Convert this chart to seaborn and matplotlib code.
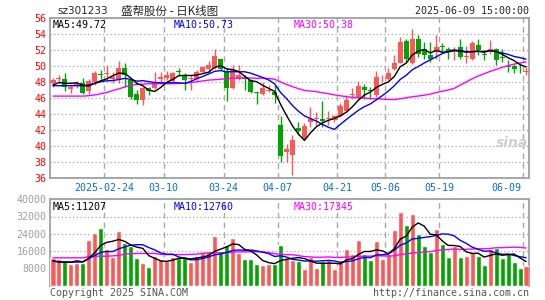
import matplotlib
matplotlib.use("Agg")
import matplotlib.pyplot as plt
import numpy as np
import pandas as pd
import seaborn as sns


# daily candles, 2025-02-11 .. 2025-06-09 (80 trading days)
opens = [47.8, 48.3, 48.35, 47.05, 47.5, 47.9, 46.8, 48.0, 48.95, 49.0,
         48.3, 48.4, 49.7, 48.2, 46.5, 45.7, 47.2, 47.2, 48.35, 48.5,
         48.1, 49.3, 48.85, 48.4, 48.4, 49.25, 49.6, 49.75, 50.8, 49.25,
         47.2, 48.35, 48.6, 48.2, 46.7, 46.5, 46.9, 46.75, 42.6, 39.25,
         38.8, 42.2, 41.0, 43.0, 43.4, 43.4, 43.35, 43.2, 43.75, 44.3,
         46.4, 46.0, 47.4, 46.9, 46.3, 48.3, 48.35, 49.55, 50.4, 53.1,
         50.4, 53.4, 52.1, 51.3, 51.7, 52.4, 52.1, 51.8, 52.4, 51.1,
         50.9, 52.6, 51.4, 51.8, 52.1, 51.05, 49.9, 50.0, 49.6, 49.2]
highs = [48.5, 48.8, 49.05, 47.6, 48.1, 48.5, 48.4, 49.3, 49.5, 50.1,
         49.25, 50.6, 50.4, 48.4, 47.0, 47.4, 47.4, 49.25, 49.25, 49.3,
         49.25, 49.7, 49.1, 48.85, 49.5, 50.0, 50.6, 52.05, 50.9, 49.7,
         50.1, 50.1, 48.85, 48.4, 46.75, 48.0, 47.6, 47.6, 43.75, 40.2,
         41.3, 43.0, 42.8, 44.9, 44.25, 45.6, 44.3, 43.9, 45.4, 46.3,
         47.2, 48.1, 47.7, 47.4, 49.3, 48.9, 49.7, 51.4, 53.6, 53.4,
         54.6, 53.8, 53.0, 53.0, 53.9, 52.8, 52.3, 52.3, 53.3, 52.5,
         53.1, 53.4, 52.0, 53.2, 52.2, 52.1, 50.7, 50.2, 50.3, 49.8]
lows = [47.3, 47.8, 46.9, 46.6, 47.2, 46.5, 46.5, 47.6, 48.4, 48.2,
        47.8, 47.8, 47.4, 45.9, 45.2, 45.1, 46.3, 47.05, 48.0, 48.2,
        47.9, 48.85, 47.0, 47.0, 48.2, 49.1, 49.25, 49.55, 49.5, 45.6,
        47.1, 48.2, 47.0, 46.55, 45.2, 46.3, 46.7, 45.3, 38.0, 38.0,
        36.4, 41.3, 40.7, 42.4, 42.6, 42.4, 42.6, 43.0, 43.6, 44.2,
        45.9, 45.9, 45.9, 45.9, 46.1, 48.0, 48.2, 49.5, 50.3, 50.5,
        50.2, 51.1, 50.8, 50.5, 50.9, 51.8, 50.9, 50.7, 50.9, 50.3,
        50.7, 51.3, 50.7, 51.5, 50.1, 50.5, 49.25, 49.05, 49.05, 48.85]
closes = [48.2, 48.5, 47.3, 47.4, 47.9, 46.6, 48.1, 49.1, 48.9, 49.1,
          48.6, 49.7, 48.8, 46.1, 45.7, 47.2, 46.9, 48.0, 48.6, 48.9,
          49.05, 49.2, 48.2, 48.5, 49.25, 49.9, 50.1, 51.2, 49.6, 47.2,
          49.5, 48.9, 48.3, 46.75, 46.6, 47.2, 47.0, 46.4, 38.7, 39.6,
          40.7, 41.8, 42.5, 43.4, 43.45, 43.1, 43.4, 43.75, 45.0, 45.7,
          46.45, 47.5, 47.0, 46.85, 48.6, 48.35, 49.05, 50.4, 53.0, 50.8,
          53.4, 51.5, 51.4, 50.9, 52.3, 52.35, 51.7, 52.1, 51.1, 51.15,
          52.8, 52.0, 51.35, 52.1, 50.7, 51.0, 49.85, 49.55, 49.55, 49.3]
volumes = [12900, 12450, 11700, 9850, 10600, 10600, 21300, 24350, 26800, 17200,
           13200, 25400, 19800, 18250, 12600, 10300, 8500, 13650, 12150, 11700,
           13200, 12600, 13650, 10900, 13650, 15500, 16250, 23150, 15950, 19000,
           22200, 14900, 12150, 12150, 9850, 9400, 9850, 9850, 19000, 12900,
           11850, 11400, 7550, 13350, 8000, 11400, 11700, 7550, 11700, 17200,
           14450, 21300, 14450, 11700, 20850, 12450, 14450, 25900, 34100, 27850,
           33200, 24050, 18550, 15500, 26350, 19450, 13350, 18250, 13350, 13950,
           15650, 13950, 9400, 17000, 17500, 12600, 15200, 11000, 8000, 9000]

# moving averages at the left edge need days before the window
ma5_head = [47.6, 47.9, 47.8, 47.8]
ma10_head = [47.5, 47.5, 47.5, 47.5, 47.5, 47.5, 47.6, 47.8, 48.0]
ma30_head = [46.2, 46.2, 46.2, 46.2, 46.2, 46.2, 46.25, 46.35, 46.5, 46.65,
             46.9, 47.1, 47.35, 47.55, 47.65, 47.7, 47.75, 47.75, 47.75, 47.75,
             47.75, 47.8, 47.8, 47.9, 48.0, 48.1, 48.2, 48.25, 48.3]
vma5_head = [11500, 11000, 10900, 10900]
vma10_head = [11300, 11000, 10900, 10900, 10900, 11000, 12500, 14000, 15500]
vma30_head = [12900, 12900, 12900, 12900, 12900, 12900, 13500, 13650, 13650, 13650,
              13800, 14000, 14600, 14800, 14900, 14900, 14900, 14900, 14500, 14400,
              14400, 14400, 14400, 14500, 14600, 15000, 15100, 15200, 15200]

date_ticks = [9, 19, 29, 38, 48, 56, 65, 79]
date_labels = ['2025-02-24', '03-10', '03-24', '04-07', '04-21', '05-06', '05-19', '06-09']
price_ticks = list(range(36, 57, 2))
vol_ticks = [8000, 16000, 24000, 32000, 40000]

RED = '#ff5656'
GREEN = '#00a600'
GRID = '#a8a8a8'


def with_head(series, n, head):
    ma = series.rolling(n).mean()
    ma.iloc[:n - 1] = head
    return ma


df = pd.DataFrame({'open': opens, 'high': highs, 'low': lows,
                   'close': closes, 'vol': volumes})
df['idx'] = np.arange(len(df))
df['dir'] = np.where(df['close'] >= df['open'], 'up', 'down')
df['ma5'] = with_head(df['close'], 5, ma5_head)
df['ma10'] = with_head(df['close'], 10, ma10_head)
df['ma30'] = with_head(df['close'], 30, ma30_head)
df['vma5'] = with_head(df['vol'], 5, vma5_head)
df['vma10'] = with_head(df['vol'], 10, vma10_head)
df['vma30'] = with_head(df['vol'], 30, vma30_head)
colors = [RED if d == 'up' else GREEN for d in df['dir']]

sns.set_theme(style='white')
plt.rcParams['font.family'] = ['DejaVu Sans Mono', 'Noto Sans CJK SC']

W, H = 545, 300
fig = plt.figure(figsize=(W / 100, H / 100), dpi=100)


def box(l, t, r, b):
    return [l / W, 1 - b / H, (r - l) / W, (b - t) / H]


axp = fig.add_axes(box(50, 17.7, 529, 177.7))
axv = fig.add_axes(box(50, 199.2, 529, 285.7))

# price panel
body = (df['close'] - df['open']).abs().clip(lower=0.07)
axp.vlines(df['idx'], df['low'], df['high'], colors=colors, lw=1, zorder=3)
axp.bar(df['idx'], body, bottom=df[['open', 'close']].min(axis=1),
        width=0.84, color=colors, lw=0, zorder=3)
sns.lineplot(data=df, x='idx', y='ma30', ax=axp, color='#ff00ff', lw=1.0, zorder=4)
sns.lineplot(data=df, x='idx', y='ma10', ax=axp, color='#0000ff', lw=1.0, zorder=5)
sns.lineplot(data=df, x='idx', y='ma5', ax=axp, color='black', lw=1.0, zorder=6)

# volume panel
sns.barplot(data=df, x='idx', y='vol', hue='dir', palette={'up': RED, 'down': GREEN},
            dodge=False, width=0.84, saturation=1, errorbar=None, legend=False,
            ax=axv, zorder=3)
sns.lineplot(x=df['idx'], y=df['vma30'], ax=axv, color='#ff00ff', lw=1.0, zorder=4)
sns.lineplot(x=df['idx'], y=df['vma10'], ax=axv, color='#0000ff', lw=1.0, zorder=5)
sns.lineplot(x=df['idx'], y=df['vma5'], ax=axv, color='black', lw=1.0, zorder=6)

for ax in (axp, axv):
    ax.set_xlim(-0.5, len(df) - 0.5)
    ax.set_xlabel('')
    ax.set_ylabel('')
    for t in date_ticks:
        ax.axvline(t - 0.5, color=GRID, lw=1, ls=(0, (4, 3)), zorder=1)
    ax.yaxis.grid(True, color=GRID, lw=0.9, ls=(0, (1, 2)), zorder=1)
    for s in ax.spines.values():
        s.set_color('#a0a0a0')
        s.set_linewidth(1.3)
    ax.tick_params(axis='both', length=0, labelsize=7.2)
axv.spines['bottom'].set_visible(False)

axp.set_ylim(36, 56)
axp.set_yticks(price_ticks)
axp.tick_params(axis='y', colors='#ff0000', pad=2.5)
label_pos = [t - 0.5 for t in date_ticks]
label_pos[-1] = 75.7
axp.set_xticks(label_pos)
axp.set_xticklabels(date_labels, color='#0a6fd0')
axp.tick_params(axis='x', pad=4)

axv.set_ylim(0, 40000)
axv.set_yticks(vol_ticks)
axv.tick_params(axis='y', colors='#a0a0a0', pad=2.5)
axv.set_xticks([])

# header and legends
fig.text(57 / W, 1 - 11.5 / H, 'sz301233', fontsize=7.5, va='center',
         family='DejaVu Sans')
fig.text(121 / W, 1 - 11.5 / H, '盛帮股份 - 日K线图', fontsize=8.3, va='center',
         family=['Noto Sans CJK SC', 'DejaVu Sans'])
fig.text(529 / W, 1 - 11.5 / H, '2025-06-09 15:00:00', fontsize=7.2,
         va='center', ha='right')

for x, txt, c in [(53, 'MA5:49.72', 'black'), (174, 'MA10:50.73', '#0000ff'),
                  (294, 'MA30:50.38', '#ff00ff')]:
    fig.text(x / W, 1 - 25 / H, txt, fontsize=7.2, color=c, va='center')
for x, txt, c in [(53, 'MA5:11207', 'black'), (174, 'MA10:12760', '#0000ff'),
                  (294, 'MA30:17345', '#ff00ff')]:
    fig.text(x / W, 1 - 206.5 / H, txt, fontsize=7.2, color=c, va='center')

fig.text(512 / W, 1 - 143 / H, 'sina', fontsize=10, style='italic', weight='bold',
         color='#cfcfcf', ha='center', va='center', family='DejaVu Sans')
fig.text(50 / W, 1 - 292.7 / H, 'Copyright 2025 SINA.COM', fontsize=7.2,
         color='#555555', va='center')
fig.text(529 / W, 1 - 292.7 / H, 'http://finance.sina.com.cn', fontsize=7.2,
         color='#555555', va='center', ha='right')

fig.savefig('out.png', dpi=100)
